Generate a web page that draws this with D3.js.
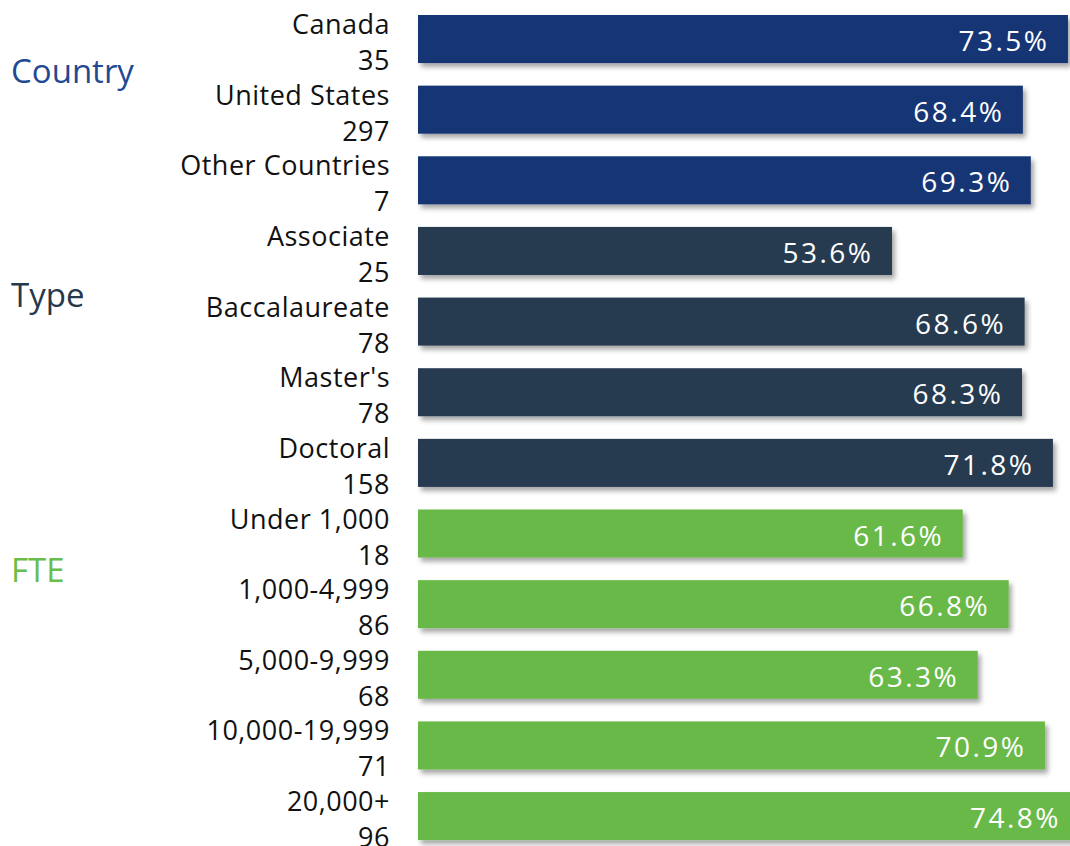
<!DOCTYPE html>
<html lang="en">
<head>
  <meta charset="UTF-8">
  <title>Response rate by segment</title>
  <style>
    * { margin: 0; }
    body { background: #fff; font-family: "Open Sans", "Noto Sans", sans-serif; overflow: hidden; }
    .cat { font-size: 27px; fill: #111; letter-spacing: 0.5px; }
    .val { font-size: 28px; fill: #fff; letter-spacing: 2.5px; }
    .grp { font-size: 33px; }
  </style>
</head>
<body>
  <div id="chart"></div>
  <script src="https://cdnjs.cloudflare.com/ajax/libs/d3/7.8.5/d3.min.js"></script>
  <script>
    const categories = ['Canada', 'United States', 'Other Countries', 'Associate', 'Baccalaureate',
      "Master's", 'Doctoral', 'Under 1,000', '1,000-4,999', '5,000-9,999', '10,000-19,999', '20,000+'];
    const counts = [35, 297, 7, 25, 78, 78, 158, 18, 86, 68, 71, 96];
    const rates = [73.5, 68.4, 69.3, 53.6, 68.6, 68.3, 71.8, 61.6, 66.8, 63.3, 70.9, 74.8];
    const groupNames = ['Country', 'Type', 'FTE'];
    const groupSizes = [3, 4, 5];

    const width = 1070, height = 846;
    const barColors = ['#163574', '#253a50', '#69b948'];
    const textColors = ['#1f4a93', '#26384c', '#69bd4a'];
    const groupDy = [68, 80, 73];

    const svg = d3.select('#chart')
      .append('svg')
      .attr('width', width)
      .attr('height', height);

    const filter = svg.append('defs').append('filter')
      .attr('id', 'shadow')
      .attr('x', '-5%').attr('y', '-20%')
      .attr('width', '110%').attr('height', '160%');
    filter.append('feDropShadow')
      .attr('dx', 3).attr('dy', 4)
      .attr('stdDeviation', 2.5)
      .attr('flood-color', '#000')
      .attr('flood-opacity', 0.35);

    const y = d3.scaleBand()
      .domain(categories)
      .range([3.7, 851.4])
      .paddingInner(0.32)
      .paddingOuter(0.16);

    const x = d3.scaleLinear()
      .domain([0, 100])
      .range([418, 1302.3]);

    // which group each row belongs to
    const groupOf = [];
    groupSizes.forEach((n, g) => { for (let i = 0; i < n; i++) groupOf.push(g); });

    const rows = categories.map((c, i) => ({ cat: c, count: counts[i], rate: rates[i], g: groupOf[i] }));

    svg.selectAll('rect.bar')
      .data(rows)
      .enter().append('rect')
      .attr('class', 'bar')
      .attr('x', x(0))
      .attr('y', d => y(d.cat))
      .attr('width', d => x(d.rate) - x(0))
      .attr('height', y.bandwidth())
      .attr('fill', d => barColors[d.g])
      .attr('filter', 'url(#shadow)');

    svg.selectAll('text.val')
      .data(rows)
      .enter().append('text')
      .attr('class', 'val')
      .attr('x', d => x(d.rate) - 18.5)
      .attr('y', d => y(d.cat) + y.bandwidth() / 2 + 12)
      .attr('text-anchor', 'end')
      .text(d => d3.format('.1f')(d.rate) + '%');

    const lab = svg.selectAll('text.cat')
      .data(rows)
      .enter().append('text')
      .attr('class', 'cat')
      .attr('text-anchor', 'end');
    lab.append('tspan')
      .attr('x', 390)
      .attr('y', d => y(d.cat) + y.bandwidth() / 2 - 5)
      .text(d => d.cat);
    lab.append('tspan')
      .attr('x', 390)
      .attr('y', d => y(d.cat) + y.bandwidth() / 2 + 31)
      .text(d => d.count);

    let start = 0;
    const firsts = groupSizes.map(n => { const f = categories[start]; start += n; return f; });
    svg.selectAll('text.grp')
      .data(groupNames)
      .enter().append('text')
      .attr('class', 'grp')
      .attr('x', 11)
      .attr('y', (d, i) => y(firsts[i]) + groupDy[i])
      .attr('fill', (d, i) => textColors[i])
      .text(d => d);
  </script>
</body>
</html>
